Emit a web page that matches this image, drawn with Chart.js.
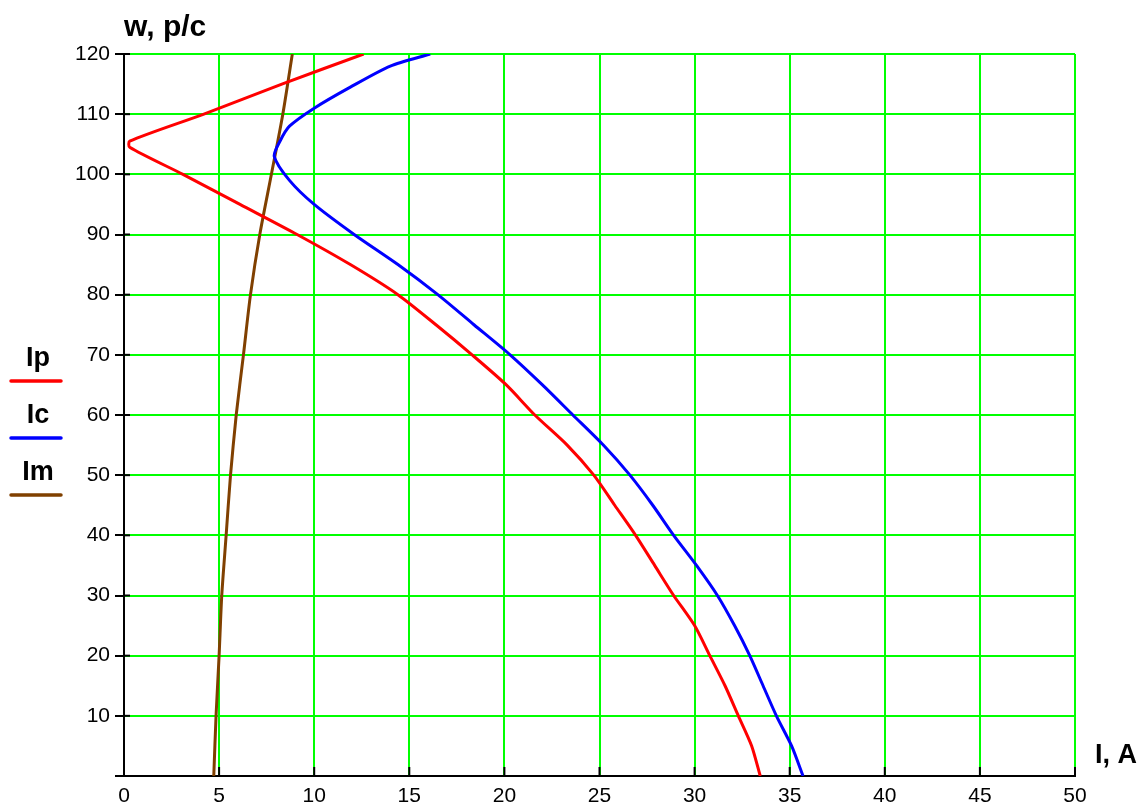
<!DOCTYPE html>
<html>
<head>
<meta charset="utf-8">
<script src="https://cdn.jsdelivr.net/npm/chart.js@4"></script>
<style>
  body { margin: 0; background: #fff; }
  canvas { display: block; }
</style>
</head>
<body>
<canvas id="chart" width="1144" height="808"></canvas>
<script>
// speed w (p/c) on the vertical axis, current I (A) on the horizontal one
const wIp = [0, 5, 10, 15, 20, 25, 30, 35, 40, 45, 50, 55, 60, 65, 70, 75, 80, 85, 90, 95, 100, 104.5, 105.5, 110, 115, 120];
const ipValues = [33.45, 33.0, 32.3, 31.6, 30.8, 30.0, 28.9, 27.9, 26.9, 25.8, 24.7, 23.3, 21.6, 20.1, 18.3, 16.4, 14.4, 11.9, 9.1, 6.1, 3.1, 0.3, 0.3, 4.2, 8.3, 12.6];

const wIc = [0, 5, 10, 15, 20, 25, 30, 35, 40, 45, 50, 55, 60, 65, 70, 75, 80, 85, 90, 95, 99, 103, 105.5, 108, 111, 114.5, 118, 120];
const icValues = [35.7, 35.1, 34.3, 33.6, 32.9, 32.1, 31.2, 30.1, 28.9, 27.8, 26.6, 25.2, 23.6, 22.0, 20.3, 18.4, 16.5, 14.4, 12.1, 10.0, 8.7, 7.9, 8.2, 8.7, 10.0, 11.9, 14.0, 16.1];

const wIm = [0, 10, 20, 30, 40, 50, 60, 70, 80, 90, 100, 110, 120];
const imValues = [4.72, 4.84, 5.0, 5.14, 5.37, 5.6, 5.9, 6.28, 6.65, 7.14, 7.75, 8.35, 8.85];

const seriesNames = ["Ip", "Ic", "Im"];
const seriesColors = ["#ff0000", "#0000ff", "#804000"];
const xTitle = "I, A";
const yTitle = "w, p/c";

const tickFont = { family: "'Liberation Sans', Arial, sans-serif", size: 21 };

function toPoints(ws, is) {
  return ws.map((w, k) => ({ x: is[k], y: w }));
}

// small black tick marks drawn inside the plot, like the original
const innerTicks = {
  id: "innerTicks",
  beforeDatasetsDraw(chart) {
    const { ctx, chartArea, scales } = chart;
    ctx.save();
    ctx.strokeStyle = "#000";
    ctx.lineWidth = 2;
    scales.x.ticks.forEach(t => {
      const px = scales.x.getPixelForValue(t.value);
      ctx.beginPath();
      ctx.moveTo(px, chartArea.bottom);
      ctx.lineTo(px, chartArea.bottom - 9);
      ctx.stroke();
    });
    scales.y.ticks.forEach(t => {
      if (t.value === 0) return;
      const py = scales.y.getPixelForValue(t.value);
      ctx.beginPath();
      ctx.moveTo(chartArea.left, py);
      ctx.lineTo(chartArea.left + 6, py);
      ctx.stroke();
    });
    ctx.restore();
  }
};

// axis names and the Mathcad style legend on the left
const labels = {
  id: "labels",
  afterDraw(chart) {
    const ctx = chart.ctx;
    ctx.save();
    ctx.fillStyle = "#000";
    ctx.textBaseline = "alphabetic";
    ctx.textAlign = "left";
    ctx.font = "bold 30px 'Liberation Sans', Arial, sans-serif";
    ctx.fillText(yTitle, 124, 36);
    ctx.font = "bold 27px 'Liberation Sans', Arial, sans-serif";
    ctx.fillText(xTitle, 1095, 763);

    const rowY = [366, 423, 480];
    chart.data.datasets.forEach((ds, k) => {
      ctx.textAlign = "center";
      ctx.fillStyle = "#000";
      ctx.fillText(ds.label, 38, rowY[k]);
      ctx.strokeStyle = ds.borderColor;
      ctx.lineWidth = 3.5;
      ctx.lineCap = "round";
      ctx.beginPath();
      ctx.moveTo(11, rowY[k] + 15);
      ctx.lineTo(61, rowY[k] + 15);
      ctx.stroke();
    });
    ctx.restore();
  }
};

new Chart(document.getElementById("chart"), {
  type: "scatter",
  data: {
    datasets: [
      { label: seriesNames[0], data: toPoints(wIp, ipValues), borderColor: seriesColors[0] },
      { label: seriesNames[1], data: toPoints(wIc, icValues), borderColor: seriesColors[1] },
      { label: seriesNames[2], data: toPoints(wIm, imValues), borderColor: seriesColors[2] }
    ].map(ds => Object.assign(ds, {
      showLine: true,
      pointRadius: 0,
      borderWidth: 3,
      tension: 0.25,
      backgroundColor: ds.borderColor
    }))
  },
  options: {
    responsive: false,
    animation: false,
    layout: { padding: { top: 54, right: 69, left: 0, bottom: 0 } },
    plugins: { legend: { display: false }, tooltip: { enabled: false } },
    scales: {
      x: {
        type: "linear",
        min: 0,
        max: 50,
        afterFit: s => { s.height = 32; },
        ticks: { stepSize: 5, color: "#000", font: tickFont, padding: 8, maxRotation: 0 },
        grid: { color: "#00ff00", lineWidth: 2, drawTicks: false },
        border: { color: "#000", width: 2 }
      },
      y: {
        type: "linear",
        min: 0,
        max: 120,
        afterFit: s => { s.width = 124; },
        ticks: {
          stepSize: 10,
          color: "#000",
          font: tickFont,
          padding: 5,
          callback: v => (v === 0 ? "" : v)
        },
        grid: { color: "#00ff00", lineWidth: 2, tickLength: 9, tickColor: "#000" },
        border: { color: "#000", width: 2 }
      }
    }
  },
  plugins: [innerTicks, labels]
});
</script>
</body>
</html>
